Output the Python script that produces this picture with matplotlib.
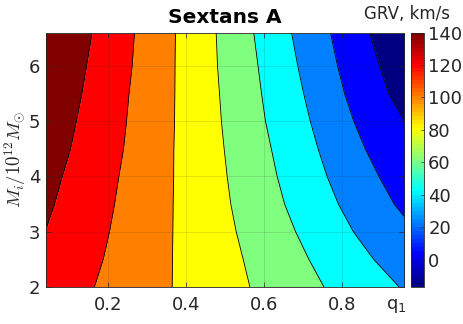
import numpy as np
import matplotlib
matplotlib.use("Agg")
import matplotlib.pyplot as plt
from matplotlib.colors import LinearSegmentedColormap, Normalize
from matplotlib.cm import ScalarMappable

# ---- data ----
M_samples = [2.0, 2.5, 3.0, 3.5, 4.0, 4.5, 5.0, 5.5, 6.0, 6.6]
# q1 position of each contour boundary at the M samples (left to right)
b1 = [-0.02, 0.012, 0.038, 0.062, 0.082, 0.103, 0.118, 0.132, 0.144, 0.158]
b2 = [0.1645, 0.187, 0.203, 0.216, 0.227, 0.239, 0.2466, 0.253, 0.261, 0.267]
b3 = [0.3637, 0.3645, 0.3654, 0.3662, 0.3675, 0.368, 0.3697, 0.3705, 0.371, 0.372]
b4 = [0.5628, 0.5457, 0.5278, 0.514, 0.5047, 0.497, 0.490, 0.485, 0.480, 0.4765]
b5 = [0.7526, 0.714, 0.680, 0.652, 0.633, 0.618, 0.603, 0.593, 0.584, 0.573]
b6 = [0.945, 0.880, 0.828, 0.790, 0.761, 0.738, 0.718, 0.701, 0.686, 0.670]
b7 = [1.14, 1.06, 0.99, 0.933, 0.894, 0.859, 0.8295, 0.806, 0.788, 0.770]
b8 = [1.40, 1.30, 1.22, 1.14, 1.07, 1.01, 0.960, 0.919, 0.896, 0.8705]
# GRV value (km/s) represented by each filled band, left to right
band_values = [140.0, 120.4, 100.9, 81.3, 61.8, 42.2, 22.6, 3.1, -16.5]
grv_min, grv_max = -16.5, 140.0
cbar_ticks = [0, 20, 40, 60, 80, 100, 120, 140]
x_ticks = [0.2, 0.4, 0.6, 0.8]
y_ticks = [2, 3, 4, 5, 6]
q_range = (0.04, 0.959)
M_range = (2.0, 6.6)

# MATLAB-style jet colormap
jet_data = {
    'red':   [(0, 0, 0), (0.375, 0, 0), (0.625, 1, 1), (0.875, 1, 1), (1, 0.5, 0.5)],
    'green': [(0, 0, 0), (0.125, 0, 0), (0.375, 1, 1), (0.625, 1, 1), (0.875, 0, 0), (1, 0, 0)],
    'blue':  [(0, 0.5, 0.5), (0.125, 1, 1), (0.375, 1, 1), (0.625, 0, 0), (1, 0, 0)],
}
jet_cont = LinearSegmentedColormap('mjet', jet_data, N=1024)
jet64 = LinearSegmentedColormap('mjet64', jet_data, N=64)
norm = Normalize(grv_min, grv_max)

W, H = 463, 324
fig = plt.figure(figsize=(W / 100, H / 100), dpi=100)
ax = fig.add_axes([46 / W, (H - 286.7) / H, (404.3 - 46) / W, (286.7 - 33.2) / H])

ink = '#262626'
bounds = [[-1.0] * len(M_samples), b1, b2, b3, b4, b5, b6, b7, b8, [2.0] * len(M_samples)]
for k, v in enumerate(band_values):
    ax.fill_betweenx(M_samples, bounds[k], bounds[k + 1], color=jet_cont(norm(v)),
                     lw=0, zorder=1)
for b in (b1, b2, b3, b4, b5, b6, b7, b8):
    ax.plot(b, M_samples, color='black', lw=0.6, zorder=2)

ax.set_xlim(*q_range)
ax.set_ylim(*M_range)
ax.set_xticks(x_ticks)
ax.set_xticklabels([f"{t:.1f}" for t in x_ticks])
ax.set_yticks(y_ticks)
ax.grid(True, color=ink, alpha=0.15, lw=0.6)
ax.set_axisbelow(False)
ax.tick_params(direction='in', length=3.5, width=0.5, color=ink, labelcolor=ink,
               labelsize=13, top=True, right=True)
ax.tick_params(axis='x', pad=6.5)
ax.tick_params(axis='y', pad=4)
for s in ax.spines.values():
    s.set_color(ink)
    s.set_linewidth(0.6)
    s.set_zorder(3)

ax.set_title('Sextans A', fontsize=14.5, fontweight='bold', pad=7, color='black')

plt.rcParams['mathtext.fontset'] = 'cm'
fig.text(15.5 / W, 1 - 160 / H, r'$M_i/10^{12}M_{\odot}$', rotation=90, ha='center',
         va='center', fontsize=13.5, color=ink)
fig.text(386 / W, 1 - 309.3 / H, r'q$_1$', ha='left', va='baseline', fontsize=13,
         color=ink, math_fontfamily='dejavusans')
fig.text(450 / W, 1 - 19.3 / H, 'GRV, km/s', ha='right', va='baseline', fontsize=12,
         color=ink)

cax = fig.add_axes([411 / W, (H - 286.7) / H, 13 / W, (286.7 - 32.5) / H])
sm = ScalarMappable(norm=norm, cmap=jet64)
cb = fig.colorbar(sm, cax=cax, ticks=cbar_ticks)
cb.outline.set_linewidth(0.6)
cb.outline.set_edgecolor(ink)
cax.tick_params(direction='in', length=2.5, width=0.5, color=ink, labelcolor=ink,
                labelsize=13, pad=3)

fig.savefig('out.png', dpi=100)
